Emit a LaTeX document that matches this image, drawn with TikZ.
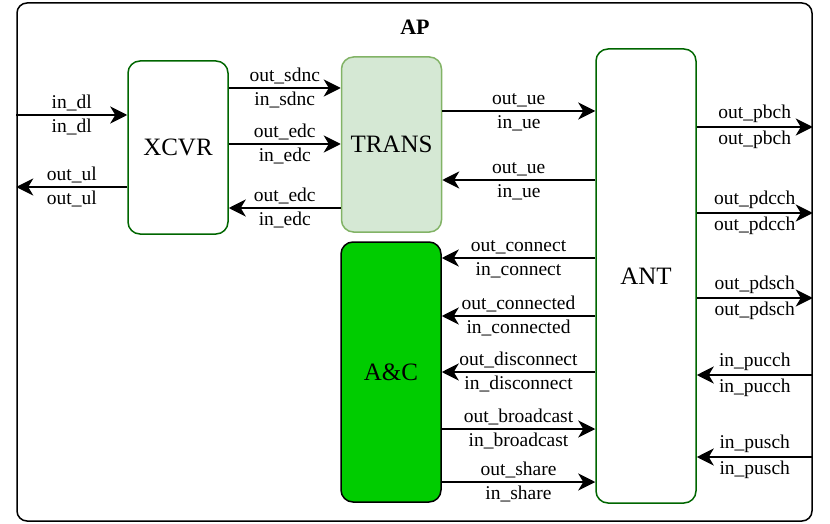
\documentclass[tikz,border=0pt]{standalone}
\usepackage{fontspec}
\setmainfont{Liberation Serif}
\usepackage{xcolor}
\usepackage{tikz}
\usetikzlibrary{arrows.meta}
\usetikzlibrary{positioning}

\definecolor{blockgreen}{HTML}{006600}
\definecolor{transfill}{HTML}{D5E8D4}
\definecolor{transline}{HTML}{82B366}
\definecolor{acgreen}{HTML}{00CC00}

\begin{document}
\begin{tikzpicture}[
  x=1pt, y=-1pt,
  block/.style={rectangle, rounded corners=12pt, draw=blockgreen, line width=1.5pt,
    fill=white, minimum width=100pt, font=\fontsize{25}{29}\selectfont},
  link/.style={line width=1.8pt, -{Stealth[length=17pt, width=17pt, inset=5pt]}},
  lbl/.style={font=\fontsize{19.5}{23}\selectfont, inner sep=3.5pt}
]
\useasboundingbox (0,0) rectangle (830,524);

% frame and blocks
\node[draw, rounded corners=10pt, line width=1.5pt, minimum width=795pt,
  minimum height=518pt] (ap) at (414.5,262) {};
\node[font=\bfseries\fontsize{22}{26}\selectfont] (aplabel) at (415,27) {AP};
\node[block, minimum height=173pt] (xcvr) at (178,147.5) {XCVR};
\node[block, fill=transfill, draw=transline, minimum height=175pt] (trans) at (391.5,144.5) {TRANS};
\node[block, fill=acgreen, draw=black, minimum height=260pt] (ac) at (391,372) {A\&C};
\node[block, minimum height=454pt] (ant) at (646,276) {ANT};

% xcvr links
\draw[link] (ap.west |- 0,115) -- node[lbl, above]{in\_dl} node[lbl, below]{in\_dl} (xcvr.west |- 0,115);
\draw[link] (xcvr.west |- 0,187) -- node[lbl, above]{out\_ul} node[lbl, below]{out\_ul} (ap.west |- 0,187);
\draw[link] (xcvr.east |- 0,88) -- node[lbl, above]{out\_sdnc} node[lbl, below]{in\_sdnc} (trans.west |- 0,88);
\draw[link] (xcvr.east |- 0,144) -- node[lbl, above]{out\_edc} node[lbl, below]{in\_edc} (trans.west |- 0,144);
\draw[link] (trans.west |- 0,208) -- node[lbl, above]{out\_edc} node[lbl, below]{in\_edc} (xcvr.east |- 0,208);

% trans and a&c links
\draw[link] (trans.east |- 0,111) -- node[lbl, above]{out\_ue} node[lbl, below]{in\_ue} (ant.west |- 0,111);
\draw[link] (ant.west |- 0,180) -- node[lbl, above]{out\_ue} node[lbl, below]{in\_ue} (trans.east |- 0,180);
\draw[link] (ant.west |- 0,258) -- node[lbl, above]{out\_connect} node[lbl, below]{in\_connect} (ac.east |- 0,258);
\draw[link] (ant.west |- 0,316) -- node[lbl, above]{out\_connected} node[lbl, below]{in\_connected} (ac.east |- 0,316);
\draw[link] (ant.west |- 0,372) -- node[lbl, above]{out\_disconnect} node[lbl, below]{in\_disconnect} (ac.east |- 0,372);
\draw[link] (ac.east |- 0,429) -- node[lbl, above]{out\_broadcast} node[lbl, below]{in\_broadcast} (ant.west |- 0,429);
\draw[link] (ac.east |- 0,482) -- node[lbl, above]{out\_share} node[lbl, below]{in\_share} (ant.west |- 0,482);

% ant links
\draw[link] (ant.east |- 0,127) -- node[lbl, above]{out\_pbch} node[lbl, below]{out\_pbch} (ap.east |- 0,127);
\draw[link] (ant.east |- 0,213) -- node[lbl, above]{out\_pdcch} node[lbl, below]{out\_pdcch} (ap.east |- 0,213);
\draw[link] (ant.east |- 0,298) -- node[lbl, above]{out\_pdsch} node[lbl, below]{out\_pdsch} (ap.east |- 0,298);
\draw[link] (ap.east |- 0,375) -- node[lbl, above]{in\_pucch} node[lbl, below]{in\_pucch} (ant.east |- 0,375);
\draw[link] (ap.east |- 0,457) -- node[lbl, above]{in\_pusch} node[lbl, below]{in\_pusch} (ant.east |- 0,457);
\end{tikzpicture}
\end{document}
